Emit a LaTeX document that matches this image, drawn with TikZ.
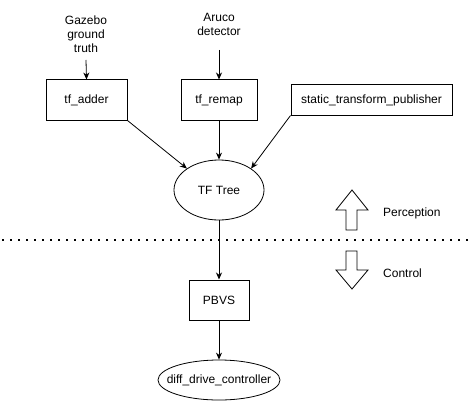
\documentclass[tikz,border=0pt]{standalone}
\usepackage{fontspec}
\setmainfont{Liberation Sans}
\usetikzlibrary{arrows.meta,shapes.geometric}
\begin{document}
\begin{tikzpicture}[x=1pt,y=-1pt,
  every node/.style={font=\fontsize{12}{14}\selectfont, inner sep=0pt},
  box/.style={draw, line width=1pt, minimum width=#1, minimum height=40pt},
  oval/.style={draw, ellipse, line width=0.8pt},
  conn/.style={line width=0.8pt, -{Stealth[length=7pt,width=6pt]}},
  bigarrow/.style={draw, line width=0.8pt, line join=miter}
]
\useasboundingbox (0,0) rectangle (473,401);

% top labels
\node[align=center] (gazebo) at (86,34) {Gazebo\\ground\\truth};
\node[align=center] (aruco) at (219,24) {Aruco\\detector};
\coordinate (gzout) at (86,60);
\coordinate (arout) at (219,50);

% boxes
\node[box=81pt] (adder) at (86.5,100) {tf\_adder};
\node[box=76pt] (remap) at (219,100) {tf\_remap};
\node[box=161pt, minimum height=30pt] (static) at (371.5,100) {static\_transform\_publisher};

% TF tree
\node[oval, minimum width=90pt, minimum height=60pt] (tf) at (219,190) {\makebox[0pt]{TF Tree}};

% PBVS and controller
\node[box=60pt] (pbvs) at (219,300) {PBVS};
\node[oval, minimum width=122pt, minimum height=40pt] (diff) at (219,380) {\makebox[0pt]{diff\_drive\_controller}};

% connectors
\draw[conn] (gzout) -- (adder.north);
\draw[conn] (arout) -- (remap.north);
\draw[conn] (adder.south east) -- (tf.north west);
\draw[conn] (remap.south) -- (tf.north);
\draw[conn] (static.south west) -- (tf.north east);
\draw[conn] (tf.south) -- (pbvs.north);
\draw[conn] (pbvs.south) -- (diff.north);

% separator
\draw[line width=1.6pt, dash pattern=on 1.6pt off 6.4pt] (2,240) -- (473,240);

% perception / control arrows
\draw[bigarrow] (352,190) -- (368,210) -- (357,210) -- (357,230) -- (346,230) -- (346,210) -- (336,210) -- cycle;
\draw[bigarrow] (346,251) -- (357,251) -- (357,270) -- (368,270) -- (352,289) -- (336,270) -- (346,270) -- cycle;
\node[anchor=west] (perc) at (383,213) {Perception};
\node[anchor=west] (ctrl) at (383,273) {Control};
\end{tikzpicture}
\end{document}
